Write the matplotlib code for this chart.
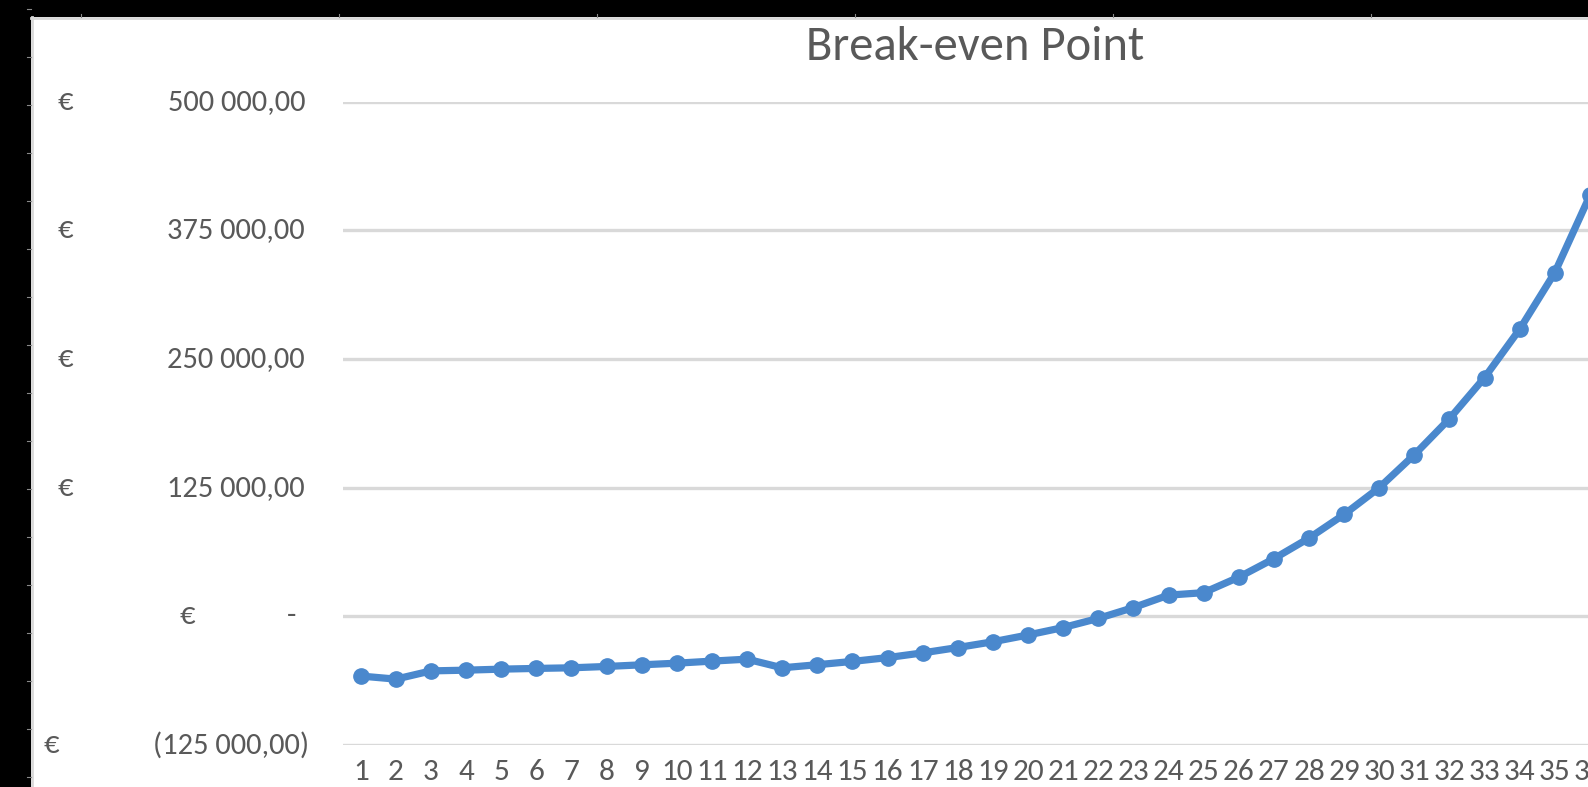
import matplotlib
matplotlib.use("Agg")
import matplotlib.pyplot as plt
import matplotlib.transforms as mtransforms
from matplotlib.patches import Rectangle
from matplotlib.lines import Line2D
import numpy as np

# period numbers and cumulative result (EUR)
periods = list(range(1, 37))
cumulative = [-58000, -61000, -53000, -52300, -51300, -50600, -50000, -48700, -47100, -45500,
              -43500, -41600, -50000, -47000, -43800, -40100, -35500, -30300, -24700, -18100,
              -10900, -2000, 8500, 20600, 23000, 38000, 56000, 76000, 99000, 125000,
              157000, 192000, 232000, 279000, 334000, 409000]

y_ticks = [-125000, 0, 125000, 250000, 375000, 500000]
y_nums = ["(125 000,00)", "-", "125 000,00", "250 000,00", "375 000,00", "500 000,00"]

W, H = 1588, 787
txt = "#595959"
grid = "#D9D9D9"
blue = "#4A88CD"
plt.rcParams['font.family'] = ['Carlito', 'DejaVu Sans']

fig = plt.figure(figsize=(W / 100, H / 100), dpi=100, facecolor="black")

# white chart area with light frame on the black screenshot background
fig.patches.append(Rectangle((31 / W, 0), 1 - 31 / W, (H - 17) / H, transform=fig.transFigure,
                             facecolor="white", edgecolor="none", zorder=-2))
fig.lines.append(Line2D([32 / W, 32 / W], [0, (H - 17) / H], transform=fig.transFigure, color=grid, lw=2, zorder=-1))
fig.lines.append(Line2D([31 / W, 1], [(H - 18) / H, (H - 18) / H], transform=fig.transFigure, color=grid, lw=2, zorder=-1))
for yy in np.arange(9, H, 48):
    fig.lines.append(Line2D([27 / W, 31 / W], [(H - yy) / H] * 2, transform=fig.transFigure, color="#8a8a8a", lw=0.8, zorder=-1))
for xx in np.arange(81, W, 258):
    fig.lines.append(Line2D([xx / W] * 2, [(H - 17) / H, (H - 14) / H], transform=fig.transFigure, color="#8a8a8a", lw=0.8, zorder=-1))

cat_w = 35.12
left_px = 343.2
ax = fig.add_axes([left_px / W, (H - 745) / H, cat_w * 36 / W, 643.3 / H])
ax.set_facecolor("none")
ax.set_xlim(0.5, 36.5)
ax.set_ylim(-125000, 500000)

ax.set_yticks(y_ticks)
ax.yaxis.grid(True, color=grid, lw=2.4)
ax.set_axisbelow(True)
for s in ax.spines.values():
    s.set_visible(False)
ax.tick_params(axis="y", length=0, labelleft=False)
ax.set_xticks(periods)
ax.set_xticklabels([str(p) for p in periods])
ax.tick_params(axis="x", length=0, pad=10, labelsize=22.5, labelcolor=txt)

ax.plot(periods, cumulative, color=blue, lw=5.2, marker="o", markersize=11,
        markerfacecolor=blue, markeredgecolor=blue, solid_capstyle="round", clip_on=False)

# accounting-style y labels: euro sign left, amount right
tr = mtransforms.blended_transform_factory(fig.transFigure, ax.transData)
fs = 22
for v, s in zip(y_ticks, y_nums):
    if v == 0:
        ex = 180
        fig.text(291.5 / W, v, s, transform=tr, ha="center", va="center", fontsize=fs, color=txt)
    elif v < 0:
        ex = 43
        fig.text(309 / W, v, s, transform=tr, ha="right", va="center", fontsize=fs, color=txt)
    else:
        ex = 58
        fig.text(305 / W, v, s, transform=tr, ha="right", va="center", fontsize=fs, color=txt)
    fig.text(ex / W, v, "€", transform=tr, ha="left", va="center", fontsize=fs, color=txt)

fig.text(975 / W, (H - 60) / H, "Break-even Point", ha="center", va="baseline", fontsize=35, color=txt)

fig.savefig("out.png", dpi=100, facecolor="black")
